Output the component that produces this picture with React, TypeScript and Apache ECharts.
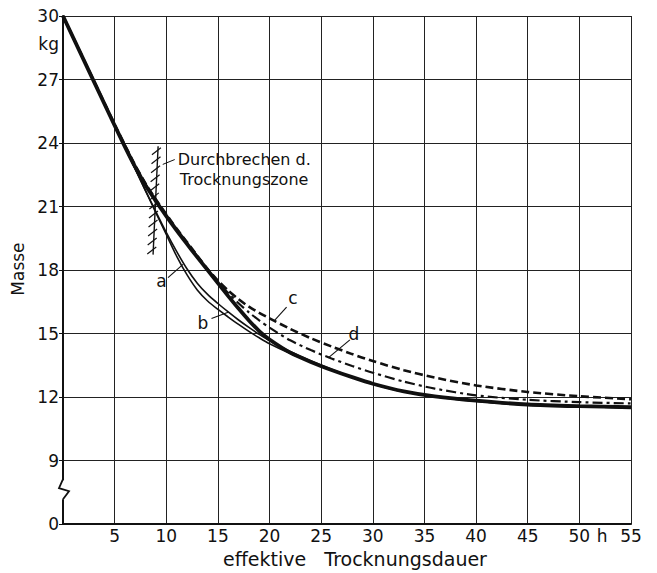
import React, { useEffect, useRef } from "react";
import * as echarts from "echarts";

// effective drying time (h)
const hours = [0, 5, 6, 7, 8, 9, 10, 11, 12, 13, 14, 15, 16, 17, 18, 19, 20, 22, 24, 26, 28, 30, 33, 36, 40, 45, 50, 55];
// mass (kg) for each curve
const massA = [30, 24.83, 23.8, 22.76, 21.73, 20.7, 19.68, 18.66, 17.78, 17.06, 16.54, 16.14, 15.78, 15.43, 15.1, 14.8, 14.52, 14.06, 13.66, 13.28, 12.93, 12.61, 12.25, 12.02, 11.8, 11.63, 11.55, 11.5];
const massB = [30, 24.83, 23.8, 22.76, 21.75, 20.75, 19.78, 18.88, 18.06, 17.38, 16.85, 16.42, 16.02, 15.64, 15.29, 14.96, 14.66, 14.15, 13.72, 13.32, 12.95, 12.62, 12.26, 12.03, 11.81, 11.63, 11.55, 11.5];
const massThick = [30, 24.83, 23.82, 22.86, 22.0, 21.25, 20.55, 19.88, 19.24, 18.61, 18.0, 17.38, 16.77, 16.18, 15.62, 15.12, 14.72, 14.1, 13.66, 13.28, 12.94, 12.63, 12.27, 12.03, 11.83, 11.65, 11.57, 11.52];
const massC = [30, 24.88, 23.9, 22.94, 22.08, 21.33, 20.63, 19.96, 19.32, 18.68, 18.05, 17.5, 17.03, 16.62, 16.27, 15.98, 15.72, 15.22, 14.78, 14.39, 14.03, 13.7, 13.27, 12.92, 12.55, 12.24, 12.04, 11.9];
const massD = [30, 24.86, 23.86, 22.9, 22.04, 21.29, 20.59, 19.92, 19.28, 18.65, 18.02, 17.44, 16.91, 16.43, 16.0, 15.62, 15.28, 14.68, 14.22, 13.82, 13.47, 13.15, 12.73, 12.4, 12.08, 11.87, 11.76, 11.7];

// y axis: broken between 0 and 9; the axis bottom (value 6) is labelled "0"
const yTickValues = [6, 9, 12, 15, 18, 21, 24, 27, 30];
const yTickLabels = ["0", "9", "12", "15", "18", "21", "24", "27", "30"];
const xTickLabels = ["", "5", "10", "15", "20", "25", "30", "35", "40", "45", "50", "55"];

// curve label annotations (data coordinates)
const curveLabels = [
  { text: "a", at: [9.53, 17.49], from: [10.17, 17.64], to: [11.62, 18.27] },
  { text: "b", at: [13.54, 15.49], from: [14.38, 15.71], to: [15.99, 16.01] },
  { text: "c", at: [22.26, 16.67], from: [21.65, 16.25], to: [20.51, 15.63] },
  { text: "d", at: [28.17, 14.98], from: [27.78, 14.7], to: [25.68, 13.85] },
];
const zoneTop = [9.21, 23.85];
const zoneBottom = [8.72, 18.73];
const zoneText1 = "Durchbrechen d.";
const zoneText2 = "Trocknungszone";

const FONT = "DejaVu Sans";
const INK = "#111";

export default function App() {
  const ref = useRef<HTMLDivElement>(null);
  useEffect(() => {
    if (!ref.current) return;
    const chart = echarts.init(ref.current, undefined, { renderer: "svg" });
    const pair = (ys: number[]) => hours.map((h, i) => [h, ys[i]]);
    const lineSeries = (name: string, ys: number[], width: number, type: any) => ({
      name,
      type: "line",
      data: pair(ys),
      showSymbol: false,
      smooth: 0.25,
      lineStyle: { color: INK, width, type },
      silent: true,
    });
    chart.setOption({
      animation: false,
      backgroundColor: "#fff",
      grid: { left: 63, right: 26, top: 16, bottom: 41 },
      xAxis: {
        type: "value",
        min: 0,
        max: 55,
        interval: 5,
        name: "effektive   Trocknungsdauer",
        nameLocation: "middle",
        nameGap: 21,
        nameTextStyle: { fontSize: 19, fontFamily: FONT, color: INK, padding: [0, 0, 0, 16] },
        axisLine: { show: true, lineStyle: { color: INK, width: 2 } },
        axisTick: { show: false },
        axisLabel: {
          formatter: (v: number) => xTickLabels[Math.round(v / 5)] ?? "",
          color: INK,
          fontSize: 17,
          fontFamily: FONT,
          margin: 3,
        },
        splitLine: { show: true, lineStyle: { color: "#222", width: 1 } },
      },
      yAxis: {
        type: "value",
        min: 6,
        max: 30,
        interval: 3,
        name: "Masse",
        nameLocation: "middle",
        nameRotate: 90,
        nameGap: 30,
        nameTextStyle: { fontSize: 17, fontFamily: FONT, color: INK, padding: [0, 0, 0, 2] },
        axisLine: { show: true, lineStyle: { color: INK, width: 2 } },
        axisTick: { show: true, length: 4, lineStyle: { color: INK, width: 1 } },
        axisLabel: {
          formatter: (v: number) => {
            const i = yTickValues.indexOf(v);
            return i >= 0 ? yTickLabels[i] : "";
          },
          color: INK,
          fontSize: 17,
          fontFamily: FONT,
          margin: 4,
        },
        splitLine: { show: true, lineStyle: { color: "#222", width: 1 } },
      },
      series: [
        lineSeries("thick", massThick, 3.8, "solid"),
        lineSeries("c", massC, 2.6, [8, 4]),
        lineSeries("d", massD, 2.2, [10, 4, 3, 4]),
        lineSeries("a", massA, 1.6, "solid"),
        lineSeries("b", massB, 1.6, "solid"),
      ],
    });

    const px = (p: number[]) => chart.convertToPixel({ gridIndex: 0 }, p) as number[];
    const g: any[] = [];
    const txt = (text: string, x: number, y: number, align: string, va: string, size = 17) => ({
      type: "text",
      z: 100,
      style: { text, x, y, fill: INK, fontSize: size, fontFamily: FONT, align, verticalAlign: va },
    });
    const seg = (a: number[], b: number[], w = 1.2) => ({
      type: "line",
      z: 100,
      shape: { x1: a[0], y1: a[1], x2: b[0], y2: b[1] },
      style: { stroke: INK, lineWidth: w },
    });

    // curve labels
    curveLabels.forEach((l) => {
      const p = px(l.at);
      g.push(txt(l.text, p[0], p[1], "center", "middle"));
      g.push(seg(px(l.from), px(l.to), 1.1));
    });

    // hatched zone line
    const t = px(zoneTop);
    const b = px(zoneBottom);
    g.push(seg(t, b, 1.4));
    const n = 12;
    for (let i = 0; i < n; i++) {
      const f = (i + 0.5) / n;
      const x = t[0] + (b[0] - t[0]) * f;
      const y = t[1] + (b[1] - t[1]) * f;
      g.push(seg([x - 6, y + 4], [x + 3, y - 3], 1.2));
    }
    const lt = px([11.11, 23.22]);
    g.push(seg(px([9.66, 22.99]), [lt[0] - 3, lt[1]], 1));
    g.push(txt(zoneText1, lt[0], lt[1], "left", "middle", 16));
    const lt2 = px([11.31, 22.29]);
    g.push(txt(zoneText2, lt2[0], lt2[1], "left", "middle", 16));

    // kg unit
    const kg = px([0, 28.7]);
    g.push(txt("kg", kg[0] - 4, kg[1], "right", "middle"));

    // h unit between 50 and 55
    const hp = px([52.2, 6]);
    g.push(txt("h", hp[0], hp[1] + 3, "center", "top"));

    // axis break symbol
    const br = px([0, 7.6]);
    g.push({
      type: "rect",
      z: 99,
      shape: { x: br[0] - 4, y: br[1] - 10, width: 8, height: 19 },
      style: { fill: "#fff" },
    });
    g.push({
      type: "polyline",
      z: 100,
      shape: {
        points: [
          [br[0], br[1] - 11],
          [br[0] - 4, br[1] - 2],
          [br[0] + 6, br[1] + 1],
          [br[0], br[1] + 9],
        ],
      },
      style: { stroke: INK, lineWidth: 1.8, fill: "none" },
    });

    chart.setOption({ graphic: g });
    return () => chart.dispose();
  }, []);
  return (
    <div
      ref={ref}
      style={{ position: "absolute", left: 0, top: 0, width: 657, height: 573, background: "#fff" }}
    />
  );
}
